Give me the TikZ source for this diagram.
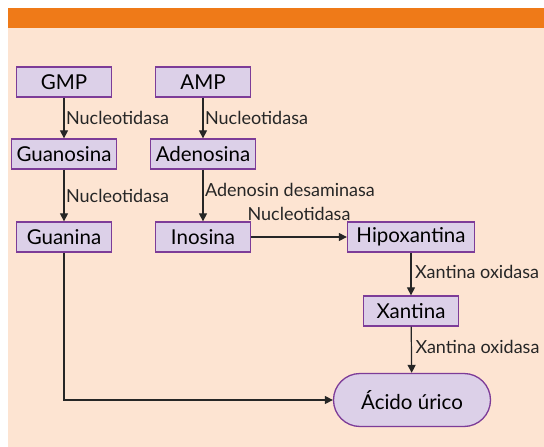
\documentclass[tikz,border=0pt]{standalone}
\usepackage{fontspec}
\setmainfont{Lato}
\usetikzlibrary{positioning,shapes,shapes.misc,arrows.meta}
\definecolor{barorange}{HTML}{EF7A18}
\definecolor{peach}{HTML}{FDE4D2}
\definecolor{lilac}{HTML}{DCD0E8}
\definecolor{plum}{HTML}{7D3C98}
\tikzset{
  box/.style={draw=plum, line width=1.3pt, fill=lilac, minimum height=30pt, minimum width=95pt, inner xsep=5pt, font=\fontsize{20.5}{24}\selectfont},
  acidobox/.style={box, rounded rectangle, minimum width=167pt, minimum height=53pt},
  flow/.style={-{Triangle[length=8pt,width=8pt]}, line width=1.2pt, black!85},
  enz/.style={font=\fontsize{18}{21}\selectfont, inner sep=1.5pt, text=black!85}
}
\begin{document}
\begin{tikzpicture}[x=1pt,y=-1pt]
\useasboundingbox (0,0) rectangle (544,447);
\fill[peach] (8,8) rectangle (544,447);
\fill[barorange] (8,8) rectangle (544,28);

\node[box] (gmp) at (64,82) {GMP};
\node[box] (amp) at (203,82) {AMP};
\node[box] (guanosina) at (64,154) {Guanosina};
\node[box] (adenosina) at (203,154) {Adenosina};
\node[box] (guanina) at (64,237) {Guanina};
\node[box] (inosina) at (203,237) {Inosina};
\node[box, inner xsep=9pt] (hipoxantina) at (411,237) {Hipoxantina};
\node[box] (xantina) at (411,311) {Xantina};
\node[acidobox] (acido) at (412,400) {Ácido úrico};

\draw[flow] (gmp) -- node[enz,right]{Nucleotidasa} (guanosina);
\draw[flow] (amp) -- node[enz,right]{Nucleotidasa} (adenosina);
\draw[flow] (guanosina) -- node[enz,right]{Nucleotidasa} (guanina);
\draw[flow] (adenosina) -- node[enz,right,pos=0.4]{Adenosin desaminasa} (inosina);
\draw[flow] (inosina) -- node[enz,above=14pt]{Nucleotidasa} (hipoxantina);
\draw[flow] (hipoxantina) -- node[enz,right,pos=0.45,xshift=2pt]{Xantina oxidasa} (xantina);
\draw[flow] (xantina) -- node[enz,right,pos=0.45,xshift=2pt]{Xantina oxidasa} (acido);
\draw[flow] (guanina) |- (acido);
\end{tikzpicture}
\end{document}
